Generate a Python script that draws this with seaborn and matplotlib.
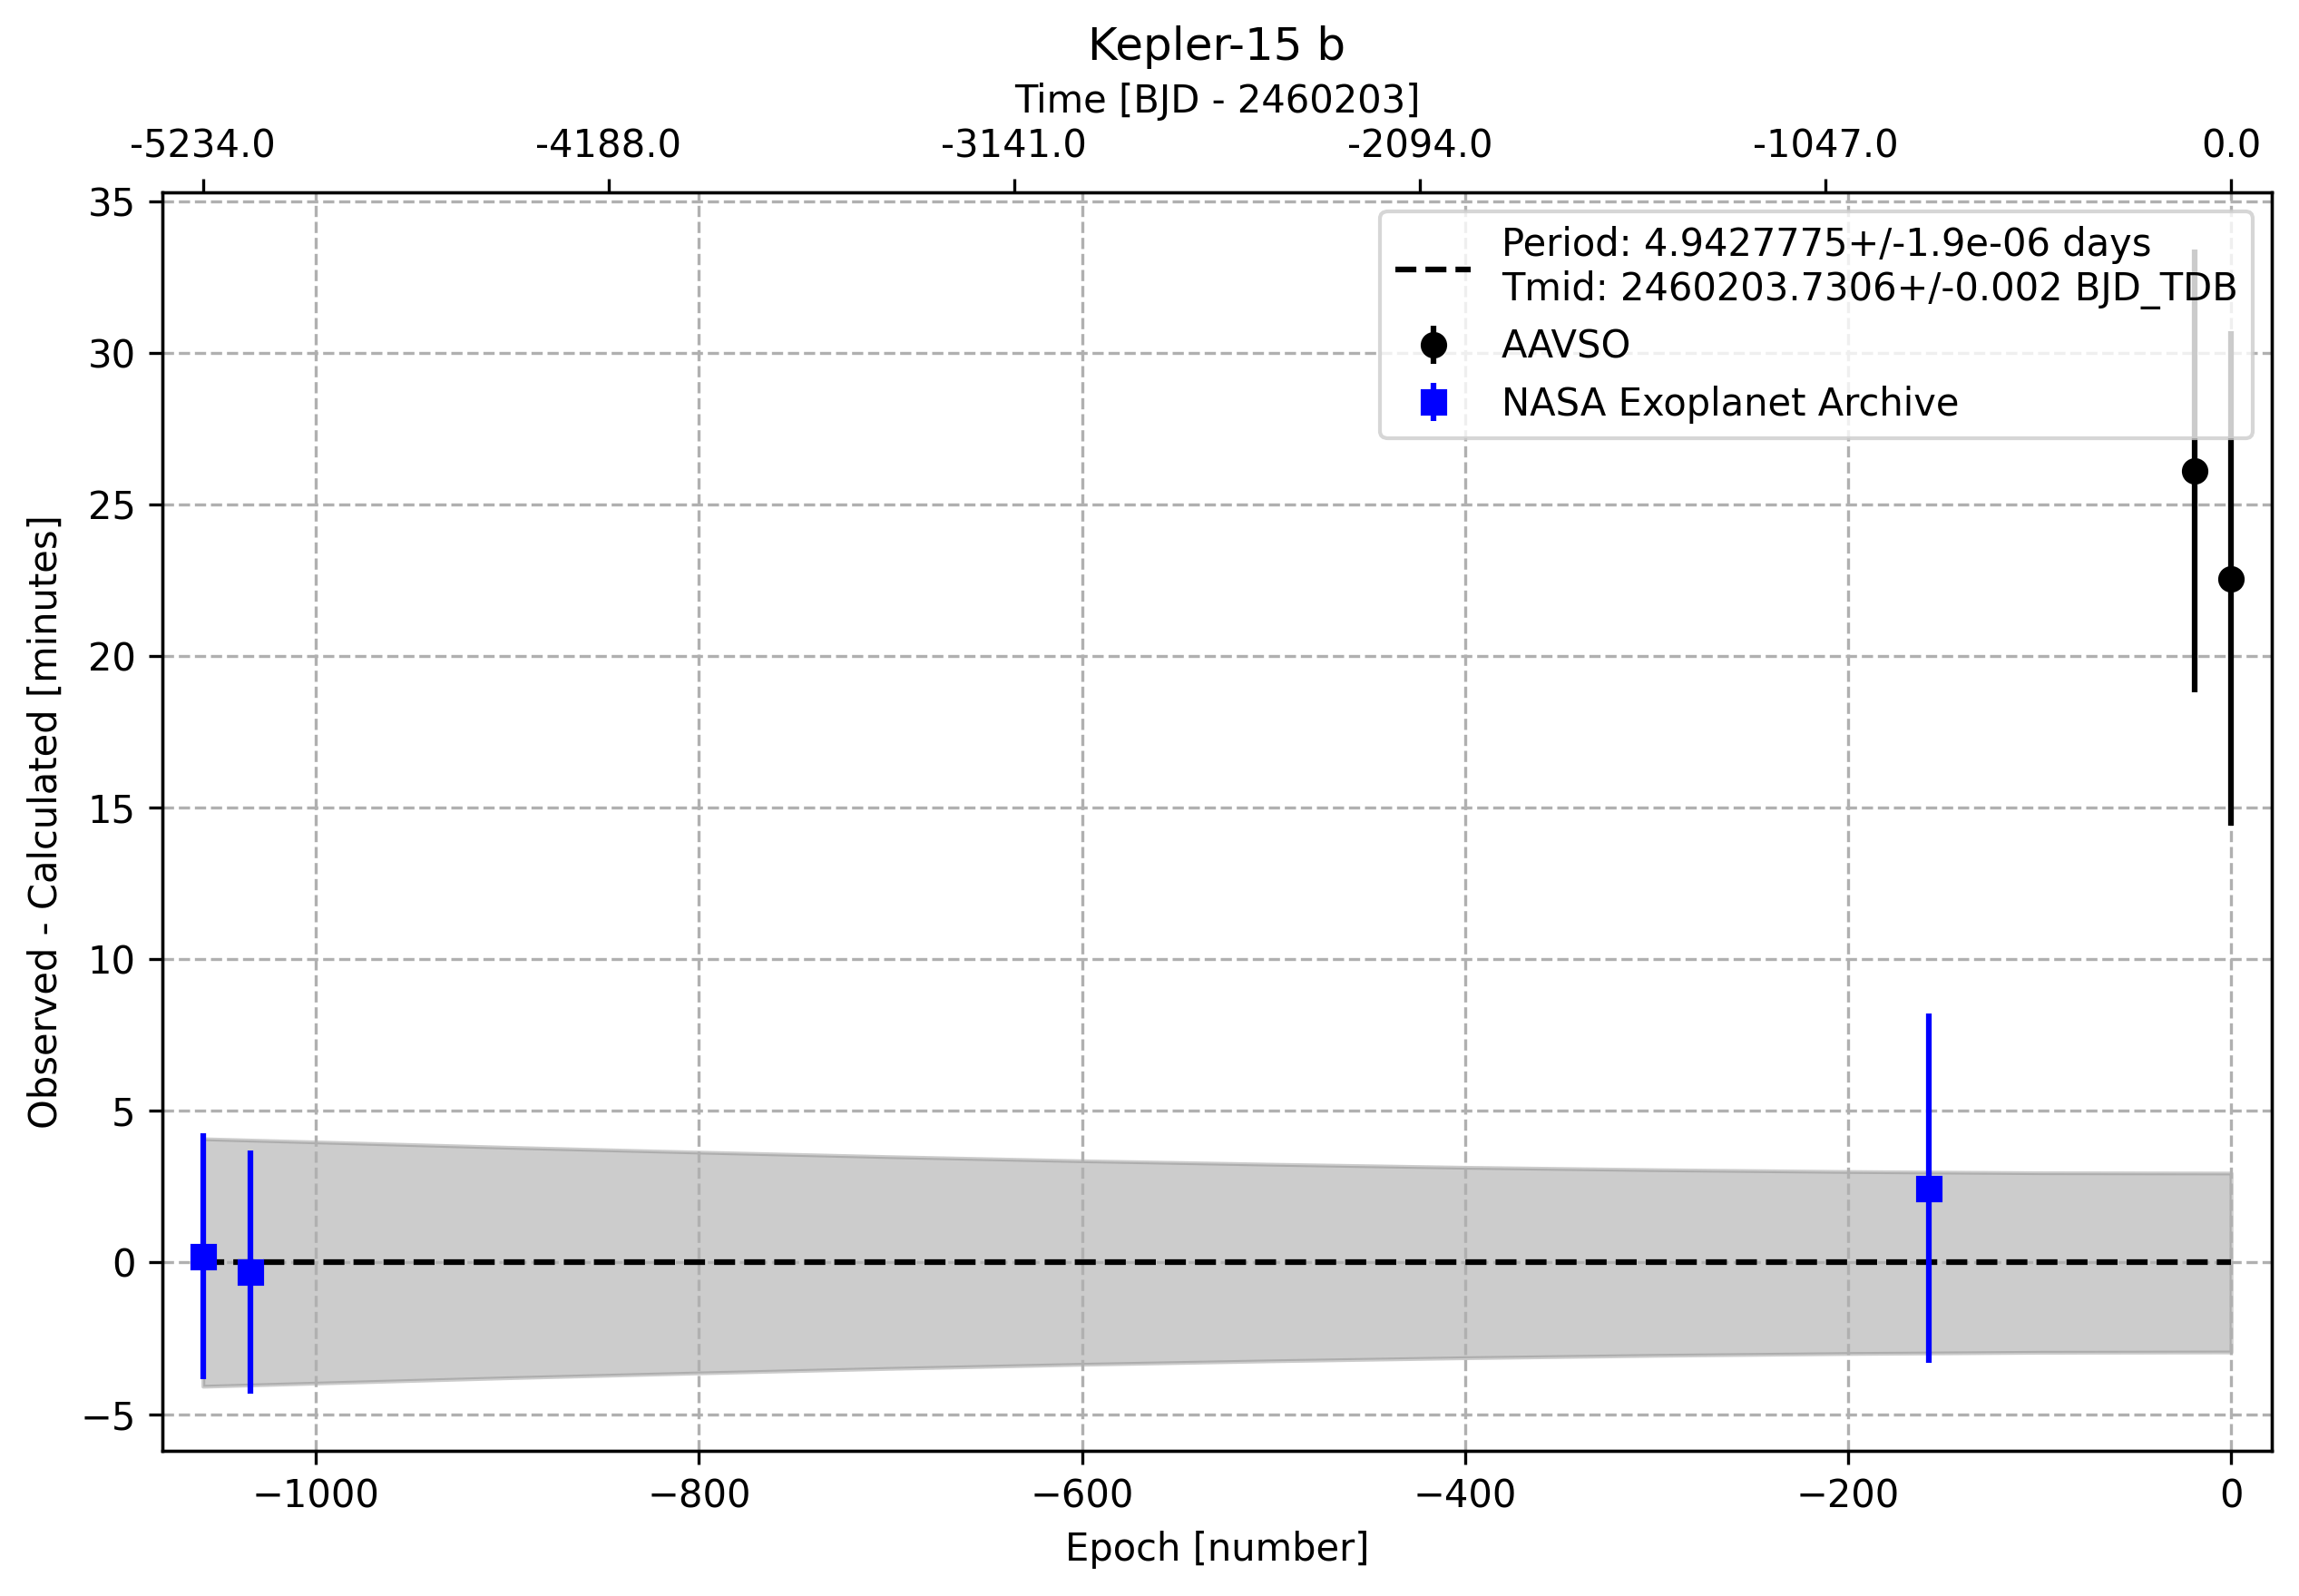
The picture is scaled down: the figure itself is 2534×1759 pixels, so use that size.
import numpy as np
import pandas as pd
import seaborn as sns
import matplotlib
matplotlib.use("Agg")
import matplotlib.pyplot as plt

# --- Data ---
PLANET = "Kepler-15 b"
PERIOD_LABEL = "Period: 4.9427775+/-1.9e-06 days\nTmid: 2460203.7306+/-0.002 BJD_TDB"

aavso_epoch = [-19, 0]
aavso_oc = [26.1, 22.55]
aavso_err = [7.3, 8.15]

nasa_epoch = [-1059, -1034, -158]
nasa_oc = [0.2, -0.32, 2.45]
nasa_err = [4.05, 4.0, 5.75]

# ephemeris uncertainty band (half width, minutes), read at several epochs
band_epoch = [-1059, -900, -800, -700, -600, -500, -400, -300, -200, -100, 0]
band_half = [4.08, 3.80, 3.64, 3.49, 3.355, 3.24, 3.14, 3.06, 3.0, 2.96, 2.95]

top_tick_labels = ["-5234.0", "-4188.0", "-3141.0", "-2094.0", "-1047.0", "0.0"]

# --- Figure ---
fig = plt.figure(figsize=(2534 / 300, 1759 / 300), dpi=300)
ax = fig.add_axes([0.0706, 0.0910, 0.9176, 0.7885])

band = pd.DataFrame({"epoch": band_epoch, "half": band_half})
ax.fill_between(band["epoch"], -band["half"], band["half"], color="gray", alpha=0.4)

all_epochs = sorted(aavso_epoch + nasa_epoch)
line_df = pd.DataFrame({"epoch": all_epochs, "oc": np.zeros(len(all_epochs))})
sns.lineplot(data=line_df, x="epoch", y="oc", ax=ax, color="k", linestyle="--",
             label=PERIOD_LABEL)

ax.errorbar(aavso_epoch, aavso_oc, yerr=aavso_err, fmt="ko", label="AAVSO")
ax.errorbar(nasa_epoch, nasa_oc, yerr=nasa_err, fmt="bs", label="NASA Exoplanet Archive")

ax.set_xlim(-1080.2, 21.3)
ax.set_xlabel("Epoch [number]")
ax.set_ylabel("Observed - Calculated [minutes]")
ax.grid(True, ls="--")
ax.legend(loc="upper right")

# top axis in time
ax2 = ax.twiny()
ax2.set_xlim(ax.get_xlim())
ax2.set_xticks(np.linspace(min(all_epochs), max(all_epochs), len(top_tick_labels)))
ax2.set_xticklabels(top_tick_labels)
ax2.set_xlabel("Time [BJD - 2460203]")
ax.set_title(PLANET)

fig.savefig("out.png", dpi=300)
